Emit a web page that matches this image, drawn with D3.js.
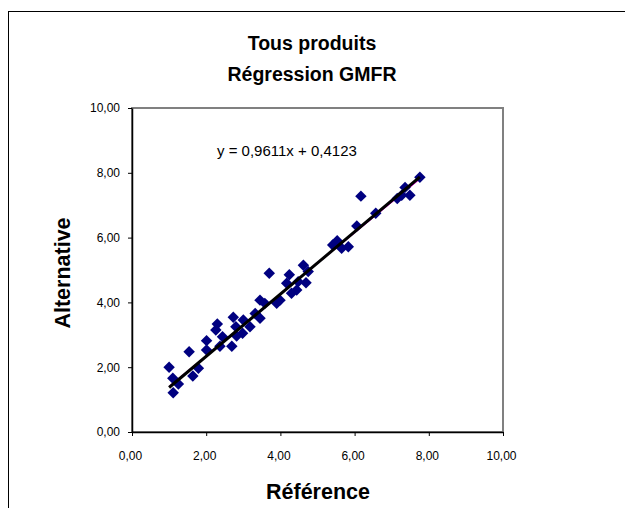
<!DOCTYPE html>
<html>
<head>
<meta charset="utf-8">
<script src="https://cdn.jsdelivr.net/npm/d3@7"></script>
<style>
  body { margin: 0; background: #fff; }
  svg { font-family: "Liberation Sans", Arial, sans-serif; }
  .tick text { font-size: 12px; fill: #000; }
</style>
</head>
<body>
<div id="chart"></div>
<script>
// Référence (x) / Alternative (y)
const refValues = [1.00, 1.10, 1.11, 1.25, 1.54, 1.64, 1.79, 2.01, 2.01, 2.30, 2.26, 2.37, 2.44, 2.69,
  2.73, 2.80, 2.82, 3.00, 2.98, 3.18, 3.32, 3.45, 3.45, 3.58, 3.70, 3.90, 3.99, 4.17, 4.24, 4.30,
  4.44, 4.48, 4.62, 4.69, 4.75, 5.41, 5.53, 5.65, 5.83, 6.06, 6.17, 6.57, 7.15, 7.27, 7.36, 7.49, 7.76];
const altValues = [2.00, 1.66, 1.21, 1.48, 2.48, 1.73, 1.97, 2.82, 2.53, 3.33, 3.15, 2.65, 2.94, 2.65,
  3.54, 3.25, 2.96, 3.46, 3.05, 3.25, 3.66, 3.51, 4.07, 3.97, 4.90, 3.97, 4.07, 4.59, 4.85, 4.28,
  4.38, 4.64, 5.15, 4.61, 4.95, 5.77, 5.90, 5.67, 5.72, 6.36, 7.28, 6.75, 7.21, 7.31, 7.55, 7.31, 7.86];

const axisTicks = [0, 2, 4, 6, 8, 10];
const gmfr = { slope: 0.9611, intercept: 0.4123 };
const trend = { slope: 0.945, intercept: 0.47 };   // thin magenta trend line under the GMFR line
const lineRange = [1.0, 7.76];

const titleLines = ['Tous produits', 'Régression GMFR'];
const xTitle = 'Référence';
const yTitle = 'Alternative';
const equationText = 'y = 0,9611x + 0,4123';

const width = 625, height = 508;
const plot = { left: 132, top: 108, right: 503, bottom: 432 };

const fr = d3.formatLocale({ decimal: ',', thousands: ' ', grouping: [3], currency: ['', ' €'] });
const fmt = fr.format('.2f');

const svg = d3.select('#chart').append('svg')
  .attr('width', width)
  .attr('height', height);

// outer chart frame (runs off the right and bottom edges)
svg.append('rect')
  .attr('x', 8.5).attr('y', 11.5)
  .attr('width', 700).attr('height', 600)
  .attr('fill', 'none')
  .attr('stroke', '#000')
  .attr('stroke-width', 1);

const x = d3.scaleLinear().domain([0, 10]).range([plot.left, plot.right]);
const y = d3.scaleLinear().domain([0, 10]).range([plot.bottom, plot.top]);

// plot area border
svg.append('rect')
  .attr('x', plot.left).attr('y', plot.top)
  .attr('width', plot.right - plot.left)
  .attr('height', plot.bottom - plot.top)
  .attr('fill', '#fff')
  .attr('stroke', '#808080')
  .attr('stroke-width', 2);

// axes
const xAxis = svg.append('g')
  .attr('transform', `translate(0,${plot.bottom})`)
  .call(d3.axisBottom(x).tickValues(axisTicks).tickFormat(fmt).tickSize(4).tickPadding(15).tickSizeOuter(0));
const yAxis = svg.append('g')
  .attr('transform', `translate(${plot.left},0)`)
  .call(d3.axisLeft(y).tickValues(axisTicks).tickFormat(fmt).tickSize(4).tickPadding(8).tickSizeOuter(0));
[xAxis, yAxis].forEach(a => {
  a.select('.domain').attr('stroke', '#000').attr('stroke-width', 1.5);
  a.selectAll('.tick line').attr('stroke', '#000');
});
xAxis.selectAll('.tick text').attr('dx', -2);

// regression lines
const line = d3.line().x(d => x(d[0])).y(d => y(d[1]));
svg.append('path')
  .datum(lineRange.map(v => [v, trend.slope * v + trend.intercept]))
  .attr('d', line)
  .attr('stroke', '#ff00ff')
  .attr('stroke-width', 1)
  .attr('fill', 'none');

// points
const points = refValues.map((v, i) => [v, altValues[i]]);
svg.append('g').selectAll('path')
  .data(points)
  .join('path')
  .attr('d', d3.symbol(d3.symbolDiamond2, 84))
  .attr('transform', d => `translate(${x(d[0])},${y(d[1])})`)
  .attr('fill', '#000080');

svg.append('path')
  .datum(lineRange.map(v => [v, gmfr.slope * v + gmfr.intercept]))
  .attr('d', line)
  .attr('stroke', '#000')
  .attr('stroke-width', 3)
  .attr('fill', 'none');

// equation
svg.append('text')
  .attr('x', 217).attr('y', 156)
  .attr('font-size', 15)
  .text(equationText);

// titles
svg.selectAll('.title')
  .data(titleLines)
  .join('text')
  .attr('class', 'title')
  .attr('x', 312)
  .attr('y', (d, i) => 50 + i * 31)
  .attr('text-anchor', 'middle')
  .attr('font-size', 19.5)
  .attr('font-weight', 'bold')
  .text(d => d);

svg.append('text')
  .attr('x', 318).attr('y', 499)
  .attr('text-anchor', 'middle')
  .attr('font-size', 21.5)
  .attr('font-weight', 'bold')
  .text(xTitle);

svg.append('text')
  .attr('transform', 'translate(70,273) rotate(-90)')
  .attr('text-anchor', 'middle')
  .attr('font-size', 21.5)
  .attr('font-weight', 'bold')
  .text(yTitle);
</script>
</body>
</html>
